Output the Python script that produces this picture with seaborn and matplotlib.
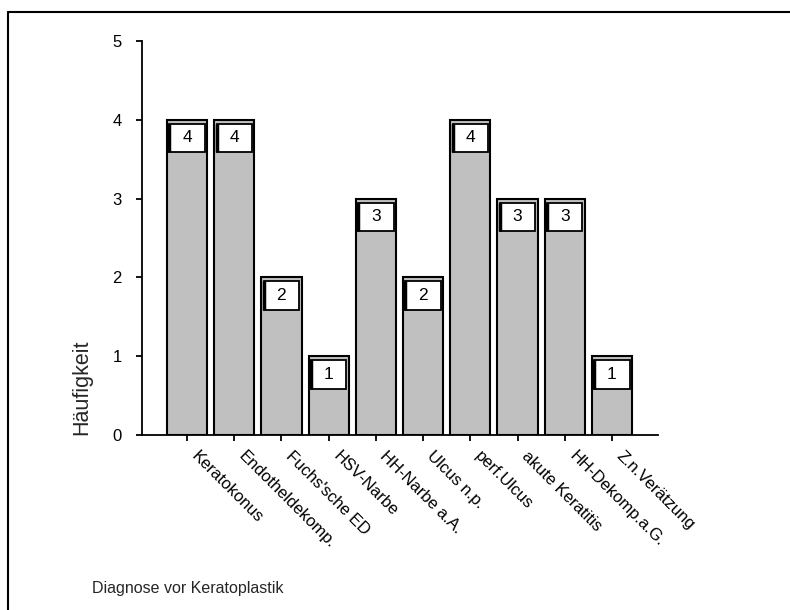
import matplotlib
matplotlib.use("Agg")
import matplotlib.pyplot as plt
import matplotlib.transforms as mtransforms
from matplotlib.patches import Rectangle
from matplotlib.lines import Line2D
import seaborn as sns
import pandas as pd

categories = ["Keratokonus", "Endotheldekomp.", "Fuchs'sche ED", "HSV-Narbe",
              "HH-Narbe a.A.", "Ulcus n.p.", "perf.Ulcus", "akute Keratitis",
              "HH-Dekomp.a.G.", "Z.n.Verätzung"]
counts = [4, 4, 2, 1, 3, 2, 4, 3, 3, 1]
y_ticks = [0, 1, 2, 3, 4, 5]

sns.set_theme(style="white")
plt.rcParams["font.family"] = ["Liberation Sans", "DejaVu Sans"]

df = pd.DataFrame({"Diagnose": categories, "Häufigkeit": counts})

fig = plt.figure(figsize=(7.9, 6.1), dpi=100)
ax = fig.add_axes([142 / 790, 1 - 435 / 610, (658 - 142) / 790, (435 - 41) / 610])

sns.barplot(data=df, x="Diagnose", y="Häufigkeit", order=categories,
            color="#c0c0c0", saturation=1, edgecolor="black", linewidth=1.5,
            width=0.85, ax=ax)

ax.set_xlim(-0.953, 9.975)
ax.set_ylim(0, 5)
ax.set_yticks(y_ticks)
ax.set_xlabel("")
ax.set_ylabel("")

for p in ax.patches:
    h = p.get_height()
    x0 = p.get_x() + 0.05
    w = p.get_width() - 0.10
    box = Rectangle((x0, h - 0.41), w, 0.36, facecolor="white",
                    edgecolor="black", linewidth=1.3, zorder=3)
    ax.add_patch(box)
    ax.plot([x0, x0], [h - 0.41, h - 0.05], color="black", lw=2.5,
            solid_capstyle="butt", zorder=4)
    ax.text(p.get_x() + p.get_width() / 2, h - 0.23, f"{int(h)}",
            ha="center", va="center", fontsize=12.5, color="black", zorder=5)

for s in ["top", "right"]:
    ax.spines[s].set_visible(False)
for s in ["left", "bottom"]:
    ax.spines[s].set_color("black")
    ax.spines[s].set_linewidth(1.3)

ax.tick_params(axis="both", direction="out", length=4.5, width=1.3,
               colors="black", labelsize=12, bottom=True, left=True)
ax.tick_params(axis="y", pad=10)

offset = mtransforms.ScaledTranslation(12 / 100, -2 / 100, fig.dpi_scale_trans)
for lbl in ax.get_xticklabels():
    lbl.set_rotation(-45)
    lbl.set_ha("left")
    lbl.set_va("top")
    lbl.set_rotation_mode("anchor")
    lbl.set_fontsize(12)
    lbl.set_transform(lbl.get_transform() + offset)

fig.text(92 / 790, 1 - 589 / 610, "Diagnose vor Keratoplastik",
         ha="left", va="center", fontsize=11.5)
fig.text(82 / 790, 1 - 387 / 610, "Häufigkeit", rotation=90,
         ha="center", va="center", fontsize=15.5)

# outer frame (left and top)
fig.add_artist(Line2D([8 / 790, 8 / 790], [0, 1 - 12 / 610],
                      transform=fig.transFigure, color="black", lw=1.5))
fig.add_artist(Line2D([8 / 790, 1], [1 - 12 / 610, 1 - 12 / 610],
                      transform=fig.transFigure, color="black", lw=1.5))

fig.savefig("out.png", dpi=100)
